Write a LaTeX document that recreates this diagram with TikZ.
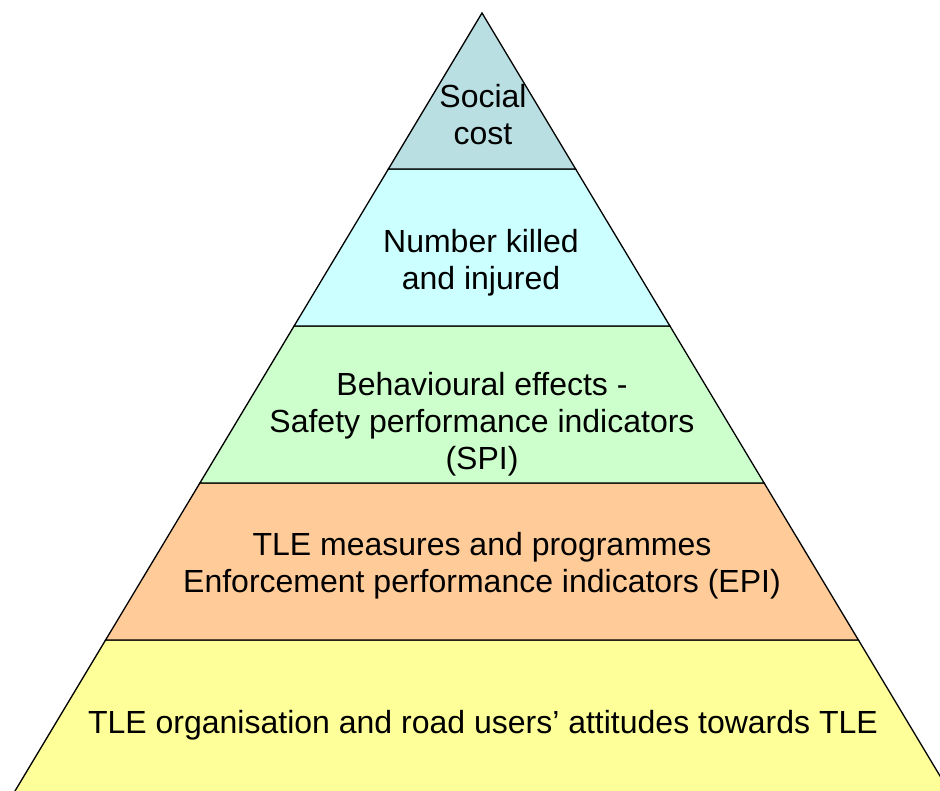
\documentclass[tikz,border=0pt]{standalone}
\usepackage{fontspec}
\setmainfont{Liberation Sans}
\definecolor{lay1}{RGB}{185,223,227}
\definecolor{lay2}{RGB}{204,255,255}
\definecolor{lay3}{RGB}{204,255,204}
\definecolor{lay4}{RGB}{255,204,153}
\definecolor{lay5}{RGB}{255,255,153}
\tikzset{
  layer/.style={draw=black, line width=1.3pt, line join=miter},
  lbl/.style={align=center, font=\fontsize{32}{37}\selectfont, inner sep=0pt}
}
\begin{document}
\begin{tikzpicture}[x=1pt,y=-1pt]
\clip (0,0) rectangle (940,791);
\fill[white] (0,0) rectangle (940,791);
% layers (apex at 482,13; base at y=797)
\filldraw[layer, fill=lay5] (105.6,640) -- (858.4,640) -- (952.6,797) -- (11.4,797) -- cycle;
\filldraw[layer, fill=lay4] (199.9,483) -- (764.1,483) -- (858.4,640) -- (105.6,640) -- cycle;
\filldraw[layer, fill=lay3] (294.1,326) -- (669.9,326) -- (764.1,483) -- (199.9,483) -- cycle;
\filldraw[layer, fill=lay2] (388.4,169) -- (575.6,169) -- (669.9,326) -- (294.1,326) -- cycle;
\filldraw[layer, fill=lay1] (482,13) -- (575.6,169) -- (388.4,169) -- cycle;
% labels
\node[lbl] (t1) at (483,115) {Social\\cost};
\node[lbl] (t2) at (481,263) {Number killed\\and injured};
\node[lbl] (t3) at (482,424) {Behavioural effects -\\Safety performance indicators\\(SPI)};
\node[lbl] (t4) at (482,566) {TLE measures and programmes\\Enforcement performance indicators (EPI)};
\node[lbl] (t5) at (483,725) {TLE organisation and road users’ attitudes towards TLE};
\end{tikzpicture}
\end{document}
